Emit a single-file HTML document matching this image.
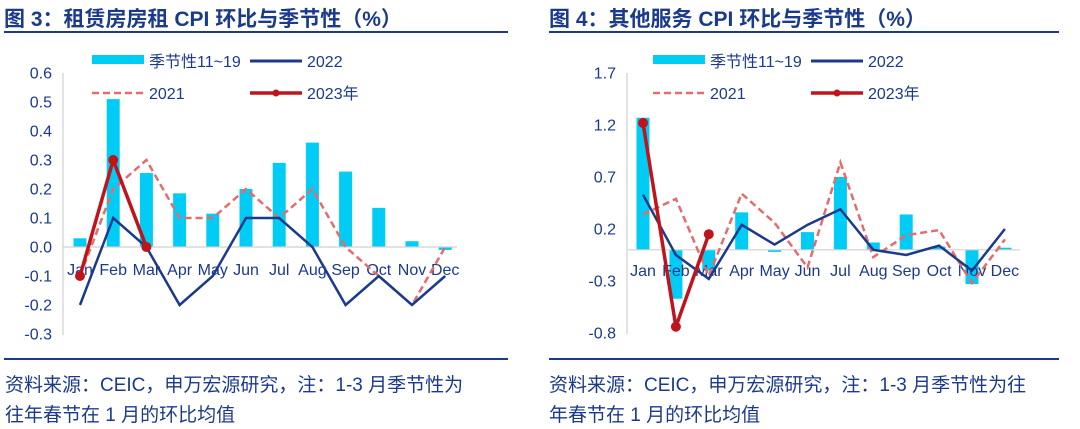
<!DOCTYPE html>
<html><head><meta charset="utf-8">
<style>
html,body{margin:0;padding:0;background:#fff;}
body{width:1080px;height:429px;position:relative;overflow:hidden;font-family:"Liberation Sans","Noto Sans CJK SC",sans-serif;}
.t{position:absolute;color:#1b3a8c;font-weight:bold;font-size:21px;white-space:nowrap;}
.f{position:absolute;color:#1b3a8c;font-size:19px;white-space:nowrap;}
.hl{position:absolute;height:2px;background:#1b3a8c;}
svg{position:absolute;left:0;top:0;}
</style></head><body>
<div class="t" style="left:4px;top:3px;">图 3：租赁房房租 CPI 环比与季节性（%）</div>
<div class="hl" style="left:4px;top:31px;width:504px;"></div>
<div class="t" style="left:549px;top:3px;">图 4：其他服务 CPI 环比与季节性（%）</div>
<div class="hl" style="left:549px;top:31px;width:510px;"></div>
<div class="hl" style="left:4px;top:358px;width:504px;"></div>
<div class="hl" style="left:549px;top:358px;width:510px;"></div>
<div class="f" style="left:5px;top:370px;">资料来源：CEIC，申万宏源研究，注：1-3 月季节性为</div>
<div class="f" style="left:5px;top:400px;">往年春节在 1 月的环比均值</div>
<div class="f" style="left:549px;top:370px;">资料来源：CEIC，申万宏源研究，注：1-3 月季节性为往</div>
<div class="f" style="left:549px;top:400px;">年春节在 1 月的环比均值</div>
<svg id="s" width="1080" height="429"></svg>
<script>
const months=["Jan","Feb","Mar","Apr","May","Jun","Jul","Aug","Sep","Oct","Nov","Dec"];
const rentSeasonal=[0.03,0.51,0.255,0.185,0.115,0.2,0.29,0.36,0.26,0.135,0.02,-0.01];
const rent2022=[-0.2,0.1,0,-0.2,-0.1,0.1,0.1,0,-0.2,-0.1,-0.2,-0.1];
const rent2021=[-0.1,0.2,0.3,0.1,0.1,0.2,0.1,0.2,0,-0.1,-0.2,0];
const rent2023=[-0.1,0.3,0];
const rentTicks=[0.6,0.5,0.4,0.3,0.2,0.1,0.0,-0.1,-0.2,-0.3];
const svcSeasonal=[1.27,-0.47,-0.2,0.36,-0.02,0.17,0.7,0.07,0.34,0.03,-0.33,0.02];
const svc2022=[0.53,-0.05,-0.28,0.24,0.05,0.24,0.39,0,-0.05,0.04,-0.2,0.2];
const svc2021=[0.34,0.49,-0.25,0.54,0.26,-0.17,0.84,-0.07,0.14,0.19,-0.32,0.1];
const svc2023=[1.22,-0.74,0.15];
const svcTicks=[1.7,1.2,0.7,0.2,-0.3,-0.8];
const svg=document.getElementById('s');
const NS="http://www.w3.org/2000/svg";
function mk(tag,attrs,parent){const e=document.createElementNS(NS,tag);for(const k in attrs)e.setAttribute(k,attrs[k]);(parent||svg).appendChild(e);return e;}
const C="#1b3a8c";
function draw(cfg){
  const g=mk('g',{});
  
  
  const y=v=>cfg.y1-(v-cfg.vmin)/(cfg.vmax-cfg.vmin)*(cfg.y1-cfg.y0);
  const x=i=>cfg.x0+i*cfg.step;
  const ya=mk('line',{x1:cfg.ax,y1:y(cfg.vmax),x2:cfg.ax,y2:y(cfg.vmin)+1,stroke:"#d0d0d0","stroke-width":1.2},g);
  
  
  cfg.ticks.forEach(t=>{
    const tx=mk('text',{x:cfg.ax-11,y:y(t)+5.5,"text-anchor":"end","font-size":16,fill:C},g);
    
    
    tx.textContent=t.toFixed(1);
  });
  cfg.seasonal.forEach((v,i)=>{
    const b=mk('rect',{x:x(i)-6.5,y:Math.min(y(v),y(0)),width:13,height:Math.abs(y(v)-y(0)),fill:"#00ccf5"},g);
    
    
  });
  const xa=mk('line',{x1:cfg.ax,y1:y(0),x2:cfg.axr,y2:y(0),stroke:"#d0d0d0","stroke-width":1.2},g);
  
  
  months.forEach((m,i)=>{
    const tx=mk('text',{x:x(i),y:y(0)+cfg.lblOff,"text-anchor":"middle","font-size":16,fill:C},g);
    
    
    tx.textContent=m;
  });
  const pts=a=>a.map((v,i)=>x(i)+","+y(v)).join(" ");
  const l21=mk('polyline',{points:pts(cfg.s2021),fill:"none",stroke:"#e46c6c","stroke-width":2.5,"stroke-dasharray":"7,4"},g);
  
  
  const l22=mk('polyline',{points:pts(cfg.s2022),fill:"none",stroke:"#1b3a8c","stroke-width":2.5},g);
  
  
  const l23=mk('polyline',{points:pts(cfg.s2023),fill:"none",stroke:"#c0141c","stroke-width":3.5},g);
  
  
  cfg.s2023.forEach((v,i)=>{
    const c=mk('circle',{cx:x(i),cy:y(v),r:5,fill:"#c0141c"},g);
    
    
  });
  const L=cfg.leg;
  const lg=mk('g',{},g);
  
  
  mk('rect',{x:L,y:55,width:52,height:9,fill:"#00ccf5"},lg);
  mk('line',{x1:L+158,y1:61,x2:L+210,y2:61,stroke:"#1b3a8c","stroke-width":3},lg);
  mk('line',{x1:L,y1:93,x2:L+52,y2:93,stroke:"#e46c6c","stroke-width":2.5,"stroke-dasharray":"7,4"},lg);
  mk('line',{x1:L+158,y1:93,x2:L+210,y2:93,stroke:"#c0141c","stroke-width":3.5},lg);
  mk('circle',{cx:L+184,cy:93,r:3.5,fill:"#c0141c"},lg);
  [["季节性11~19",L+57,67],["2022",L+215,67],["2021",L+57,99],["2023年",L+215,99]].forEach(a=>{
    const tx=mk('text',{x:a[1],y:a[2],"font-size":16,fill:C},lg);
    
    
    tx.textContent=a[0];
  });
}
draw({name:'chart-rent',x0:80,step:33.2,ax:63,axr:457,y0:73,y1:334,vmax:0.6,vmin:-0.3,ticks:rentTicks,seasonal:rentSeasonal,s2021:rent2021,s2022:rent2022,s2023:rent2023,lblOff:28,leg:92});
draw({name:'chart-services',x0:643,step:32.9,ax:627,axr:1020,y0:73,y1:333,vmax:1.7,vmin:-0.8,ticks:svcTicks,seasonal:svcSeasonal,s2021:svc2021,s2022:svc2022,s2023:svc2023,lblOff:26,leg:653});
</script>
</body></html>
